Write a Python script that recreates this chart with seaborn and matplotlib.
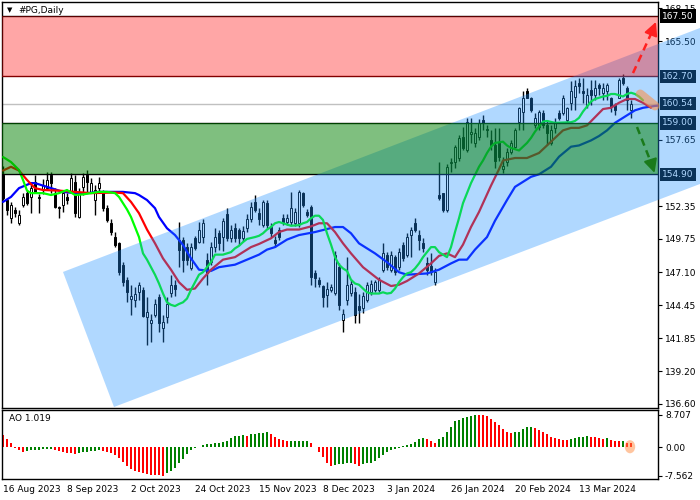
import numpy as np
import matplotlib
matplotlib.use("Agg")
import matplotlib.pyplot as plt
from matplotlib.patches import Polygon, Ellipse
import seaborn as sns

# ==================================================
# Data (#PG, daily bars)
# ==================================================
date_labels = ["16 Aug 2023", "8 Sep 2023", "2 Oct 2023", "24 Oct 2023",
               "15 Nov 2023", "8 Dec 2023", "3 Jan 2024", "26 Jan 2024",
               "20 Feb 2024", "13 Mar 2024"]

opens = [154.85, 152.85, 151.4, 152.06, 151.0, 152.46, 153.4, 153.1, 154.3, 153.1,
         153.65, 153.8, 154.85, 153.4, 152.3, 152.46, 153.1, 153.5, 154.3, 151.5,
         153.9, 154.85, 153.5, 152.85, 153.8, 153.4, 152.2, 151.0, 149.9, 149.4,
         147.67, 146.48, 145.0, 144.9, 145.5, 145.7, 143.5, 143.05, 143.7, 145.1,
         142.65, 143.5, 145.45, 146.1, 149.7, 149.7, 149.1, 147.45, 149.8, 149.5,
         149.9, 148.1, 147.9, 149.1, 150.2, 149.9, 151.7, 149.8, 150.6, 150.5,
         149.8, 150.6, 151.3, 152.7, 151.8, 150.86, 152.6, 150.7, 149.7, 150.5,
         151.4, 151.1, 151.1, 151.0, 151.0, 153.4, 151.9, 152.3, 147.0, 146.5,
         146.0, 145.28, 145.7, 145.45, 147.5, 143.3, 144.9, 145.45, 145.5, 144.4,
         144.25, 144.9, 145.5, 145.7, 145.7, 147.3, 148.5, 147.3, 148.3, 147.5,
         149.25, 148.5, 150.05, 151.0, 150.06, 149.4, 147.85, 147.6, 146.3, 153.25,
         153.4, 152.06, 155.8, 155.9, 156.2, 157.9, 156.8, 158.1, 157.4, 157.9,
         159.2, 158.5, 157.6, 157.2, 157.5, 155.3, 155.9, 156.7, 157.1, 159.1,
         159.9, 161.5, 161.0, 158.8, 158.7, 159.8, 158.8, 157.4, 158.6, 159.8,
         159.8, 159.2, 160.6, 161.1, 162.2, 161.5, 160.4, 161.6, 161.2, 162.0,
         161.4, 161.5, 161.0, 160.4, 161.0, 162.6, 161.8, 160.0]
highs = [155.6, 153.0, 152.7, 152.3, 152.06, 153.4, 153.65, 154.2, 154.85, 153.3,
         154.5, 155.1, 155.1, 153.8, 152.35, 153.65, 153.4, 155.0, 154.85, 153.8,
         155.0, 155.24, 154.6, 154.05, 154.7, 153.65, 152.46, 151.3, 150.3, 149.5,
         147.9, 146.7, 146.1, 145.9, 146.3, 145.9, 145.1, 143.8, 145.0, 145.4,
         143.7, 145.1, 146.9, 146.5, 151.1, 149.9, 149.4, 149.4, 150.0, 151.1,
         151.3, 148.6, 149.5, 150.6, 150.5, 151.4, 152.2, 150.9, 151.0, 150.6,
         150.8, 151.7, 152.7, 153.25, 152.2, 152.85, 152.85, 151.0, 150.0, 150.7,
         151.7, 151.7, 153.5, 152.2, 153.65, 153.5, 152.1, 152.46, 147.3, 146.7,
         146.1, 146.3, 146.2, 148.8, 147.8, 144.2, 148.3, 146.5, 145.9, 145.4,
         145.5, 146.3, 146.5, 146.5, 146.7, 149.4, 148.7, 148.8, 148.5, 149.0,
         149.5, 150.2, 150.7, 151.4, 150.46, 149.8, 148.3, 148.6, 147.4, 155.9,
         153.45, 155.7, 156.2, 157.2, 158.0, 158.7, 159.4, 159.4, 158.6, 159.3,
         159.6, 158.8, 158.4, 158.6, 158.6, 156.3, 157.0, 157.6, 158.6, 160.3,
         161.5, 161.8, 161.1, 159.8, 160.0, 160.0, 159.2, 158.8, 159.4, 160.0,
         161.2, 160.3, 162.3, 162.4, 162.6, 162.6, 161.8, 162.4, 162.4, 162.2,
         162.2, 162.2, 161.1, 160.6, 162.6, 162.9, 161.9, 160.8]
lows = [152.85, 151.66, 151.0, 151.5, 150.86, 152.3, 152.46, 151.8, 153.5, 151.8,
        153.3, 153.65, 153.4, 152.2, 151.4, 151.9, 152.5, 153.4, 151.5, 151.4,
        153.25, 153.4, 153.4, 151.66, 153.4, 152.0, 151.1, 150.1, 149.1, 146.9,
        146.0, 144.7, 143.7, 144.3, 144.9, 143.5, 141.3, 141.5, 143.5, 142.3,
        141.5, 143.05, 145.1, 145.2, 147.5, 147.1, 147.7, 147.3, 148.9, 149.4,
        149.4, 146.1, 147.7, 148.7, 148.9, 148.8, 149.6, 149.5, 149.5, 149.3,
        149.6, 150.3, 151.1, 151.9, 150.9, 150.7, 150.6, 149.9, 149.1, 149.7,
        150.9, 150.9, 150.9, 150.8, 150.7, 152.3, 151.5, 146.1, 145.9, 145.9,
        144.3, 144.3, 145.5, 145.3, 144.1, 142.3, 144.5, 145.2, 143.05, 143.05,
        143.85, 144.7, 145.3, 145.5, 145.5, 147.1, 147.3, 147.1, 146.9, 147.3,
        148.0, 148.3, 148.3, 150.3, 148.9, 148.7, 146.9, 146.9, 146.08, 152.85,
        151.9, 151.9, 155.1, 155.4, 156.0, 156.8, 156.7, 157.4, 157.1, 157.6,
        158.4, 157.9, 156.8, 155.4, 156.0, 155.0, 155.6, 156.5, 157.0, 158.4,
        158.4, 161.0, 159.9, 158.6, 158.4, 158.6, 157.2, 157.2, 158.2, 159.2,
        159.6, 159.0, 160.0, 160.0, 161.4, 160.6, 160.2, 160.4, 160.8, 161.2,
        160.8, 160.8, 159.9, 159.6, 161.0, 162.0, 160.0, 159.4]
closes = [153.0, 152.06, 152.46, 151.8, 151.66, 153.1, 152.6, 153.8, 153.5, 153.0,
          154.05, 154.45, 154.2, 152.3, 152.2, 153.4, 152.85, 154.6, 151.8, 153.4,
          154.7, 154.3, 154.2, 153.65, 154.2, 152.2, 151.26, 150.3, 149.27, 147.1,
          146.3, 145.5, 145.2, 145.4, 146.1, 143.6, 143.9, 143.3, 144.6, 143.05,
          143.1, 144.6, 146.08, 145.8, 148.9, 148.1, 148.1, 149.1, 149.0, 150.46,
          151.0, 147.05, 149.1, 149.9, 149.4, 151.2, 149.8, 150.5, 149.8, 149.8,
          150.4, 151.3, 152.3, 152.06, 151.3, 152.7, 150.86, 150.2, 149.4, 149.9,
          151.1, 151.4, 152.2, 151.9, 153.5, 152.46, 151.66, 146.7, 146.65, 146.2,
          145.1, 145.75, 145.9, 148.5, 144.5, 143.8, 146.08, 146.2, 143.7, 144.1,
          145.2, 146.08, 146.2, 146.3, 146.5, 148.6, 147.5, 148.5, 147.1, 148.7,
          148.2, 149.9, 150.46, 150.46, 149.67, 149.0, 147.3, 147.1, 147.1, 153.0,
          152.06, 155.5, 155.9, 157.1, 157.8, 157.0, 159.1, 158.3, 158.2, 159.0,
          158.95, 158.4, 157.25, 156.0, 156.3, 155.6, 156.7, 157.4, 158.4, 160.2,
          161.0, 161.0, 160.0, 159.4, 159.9, 158.8, 158.2, 158.4, 159.1, 159.4,
          161.0, 160.2, 161.5, 161.9, 161.9, 161.4, 161.2, 161.2, 161.8, 161.8,
          161.8, 162.0, 160.3, 160.0, 162.4, 162.2, 160.8, 160.54]

# Alligator lines (bar position, price) - they run a few bars past the last candle
lips_x = [0, 2, 4, 5, 6, 7, 10, 12, 14, 16, 18, 20, 22, 24, 26, 28, 29, 30, 31, 32,
          33, 34, 35, 36, 37, 38, 39, 40, 41, 42, 43, 44, 45, 46, 47, 48, 49, 50, 51, 52,
          53, 55, 56, 57, 58, 59, 60, 61, 63, 64, 65, 66, 67, 68, 69, 70, 71, 72, 74, 75,
          76, 77, 78, 79, 80, 81, 82, 83, 84, 85, 86, 87, 88, 89, 90, 91, 92, 94, 95, 96,
          97, 98, 99, 100, 101, 102, 103, 104, 105, 106, 107, 108, 109, 110, 111, 112, 113, 114, 115, 116,
          117, 118, 119, 120, 121, 122, 123, 125, 126, 127, 129, 130, 131, 132, 133, 134, 135, 136, 138, 142,
          143, 144, 145, 146, 147, 148, 149, 150, 151, 152, 153, 154, 155, 156, 157, 158, 159, 160]
lips_y = [156.28, 155.88, 155.24, 154.45, 153.6, 153.4, 153.4, 153.25, 153.4, 153.65,
          153.25, 153.3, 153.4, 153.5, 153.5, 153.4, 153.1, 152.6, 152.1, 151.5,
          150.7, 149.9, 148.6, 148.1, 147.5, 146.9, 146.2, 145.4, 144.7, 144.5,
          144.4, 144.57, 144.7, 145.0, 145.7, 146.3, 146.9, 147.1, 147.5, 147.9,
          148.5, 148.5, 148.6, 148.7, 149.0, 149.2, 149.5, 149.75, 149.9, 150.0,
          150.2, 150.5, 150.7, 151.0, 151.1, 151.0, 150.9, 150.8, 150.85, 151.0,
          151.1, 151.4, 151.6, 151.6, 151.26, 150.2, 149.3, 148.3, 147.7, 147.4,
          147.2, 146.5, 146.2, 146.1, 145.8, 145.5, 145.4, 145.4, 145.5, 145.4,
          145.45, 145.8, 146.3, 146.7, 147.0, 147.1, 147.4, 147.8, 148.3, 148.7,
          149.1, 149.1, 148.7, 148.5, 148.3, 149.1, 150.3, 151.4, 152.6, 153.4,
          154.2, 154.85, 155.5, 156.0, 156.6, 157.1, 157.4, 157.5, 157.2, 157.0,
          156.8, 157.1, 157.4, 157.8, 158.3, 158.7, 159.1, 159.15, 159.0, 159.05,
          159.15, 159.4, 159.9, 160.3, 160.7, 160.9, 161.0, 161.1, 161.15, 161.3,
          161.3, 161.2, 161.1, 161.3, 161.4, 161.3, 161.1, 160.8]
teeth_x = [0, 2, 4, 6, 8, 10, 14, 18, 22, 28, 30, 32, 34, 36, 38, 40, 42, 44, 46, 48,
           50, 52, 55, 58, 62, 64, 67, 69, 71, 74, 77, 79, 81, 83, 85, 87, 90, 92, 94, 97,
           99, 101, 104, 107, 109, 111, 113, 115, 117, 119, 120, 122, 124, 125, 128, 131, 134, 136, 138, 140,
           142, 144, 146, 148, 150, 152, 154, 156, 158, 160, 162]
teeth_y = [155.2, 155.5, 155.2, 154.45, 153.8, 153.65, 153.6, 153.5, 153.4, 153.45,
           153.4, 152.7, 151.8, 150.5, 149.4, 148.2, 147.3, 146.3, 145.7, 145.8,
           146.6, 147.3, 148.1, 148.3, 149.1, 149.35, 149.8, 150.3, 150.5, 150.5,
           150.75, 151.0, 151.0, 150.3, 149.4, 148.6, 147.5, 147.0, 146.5, 146.0,
           146.1, 146.4, 147.0, 147.8, 148.4, 148.6, 148.3, 149.3, 150.7, 151.9,
           152.6, 154.0, 155.3, 156.0, 156.2, 156.2, 156.6, 157.2, 157.8, 158.4,
           158.6, 158.6, 158.8, 159.45, 160.1, 160.2, 160.6, 160.9, 160.9, 160.6,
           160.2]
jaw_x = [0, 2, 4, 7, 8, 10, 13, 15, 18, 21, 24, 28, 30, 33, 34, 36, 38, 39, 41, 43,
         45, 47, 49, 52, 54, 58, 61, 64, 66, 68, 71, 74, 78, 80, 83, 85, 87, 89, 93, 96,
         99, 101, 106, 109, 112, 114, 116, 118, 121, 123, 126, 128, 132, 134, 137, 139, 142, 144, 147, 149,
         151, 153, 156, 158, 160, 163, 165]
jaw_y = [152.7, 153.1, 153.8, 154.2, 154.2, 154.0, 153.7, 153.5, 153.4, 153.4,
         153.5, 153.5, 153.5, 153.4, 153.25, 152.85, 152.2, 151.5, 150.6, 150.06,
         149.27, 148.2, 147.3, 147.2, 147.5, 147.7, 148.1, 148.5, 148.9, 149.1,
         149.7, 150.06, 150.3, 150.46, 150.7, 150.7, 150.2, 149.4, 148.6, 147.9,
         147.1, 146.9, 147.0, 147.3, 147.8, 148.1, 148.1, 148.9, 149.9, 151.2,
         152.85, 153.9, 154.7, 154.9, 155.5, 156.3, 157.1, 157.2, 157.6, 157.95,
         158.4, 159.0, 159.6, 160.0, 160.2, 160.35, 160.4]

ao_values = [3.24, 2.18, 1.2, -0.13, -0.76, -1.2, -1.02, -0.84, -0.76, -0.67,
             -0.58, -0.53, -0.49, -0.76, -1.02, -1.29, -1.47, -1.64, -1.73, -1.64,
             -1.38, -1.2, -1.02, -0.93, -0.76, -0.93, -1.2, -1.47, -2.0, -2.98,
             -4.04, -5.02, -5.91, -6.36, -6.71, -6.98, -7.16, -7.35, -7.45, -7.52,
             -7.562, -6.98, -6.36, -5.64, -4.31, -3.07, -1.82, -0.76, -0.31, 0.13,
             0.49, 0.76, 0.84, 1.02, 1.11, 1.29, 1.73, 2.36, 2.98, 3.07,
             3.16, 3.07, 3.42, 3.6, 3.69, 3.78, 4.04, 3.4, 2.7, 2.2,
             1.85, 1.55, 1.6, 1.62, 1.64, 1.66, 1.68, 1.2, 0.04, -1.2,
             -2.7, -4.13, -5.02, -4.76, -4.49, -4.36, -4.31, -4.27, -4.4, -4.93,
             -4.4, -4.31, -4.13, -3.6, -2.98, -2.09, -1.38, -0.76, -0.4, -0.13,
             0.22, 0.49, 0.84, 1.47, 2.09, 2.36, 2.18, 1.73, 1.2, 2.18,
             2.8, 4.13, 5.47, 7.07, 7.24, 7.69, 8.13, 8.45, 8.707, 8.68,
             8.6, 8.2, 7.6, 6.8, 5.91, 4.76, 4.13, 3.9, 3.96, 4.13,
             4.76, 5.29, 5.47, 5.02, 4.58, 4.13, 3.42, 2.8, 2.36, 2.09,
             1.91, 1.82, 2.18, 2.44, 2.62, 2.8, 2.98, 2.8, 2.62, 2.53,
             2.27, 2.36, 1.82, 1.73, 1.64, 1.73, 1.2, 1.019]

# scale labels that stay visible next to the price boxes
price_ticks = [168.15, 165.50, 157.65, 152.35, 149.75, 147.10,
               144.45, 141.85, 139.20, 136.60]
level_prices = [167.50, 162.70, 160.54, 159.00, 154.90]
ao_ticks = [8.707, 0.0, -7.562]

# ==================================================
# Figure
# ==================================================
sns.set_style("white")
plt.rcParams["font.family"] = ["DejaVu Sans"]
plt.rcParams["text.color"] = "black"
plt.rcParams["xtick.color"] = "black"
plt.rcParams["ytick.color"] = "black"

fig = plt.figure(figsize=(7, 5), dpi=100)
ax = fig.add_axes([2 / 700, 92 / 500, 656 / 700, 406 / 500])
ax2 = fig.add_axes([2 / 700, 21 / 500, 656 / 700, 69 / 500])

o = np.array(opens)
h = np.array(highs)
l = np.array(lows)
c = np.array(closes)
idx = np.arange(len(c))
up = c >= o

# candles
ax.vlines(idx, l, h, color="black", linewidth=1, zorder=2)
body_low = np.minimum(o, c)
body_h = np.maximum(np.abs(c - o), 0.05)
ax.bar(idx[up], body_h[up], bottom=body_low[up], width=0.7,
       color="white", edgecolor="black", linewidth=0.7, zorder=2.5)
ax.bar(idx[~up], body_h[~up], bottom=body_low[~up], width=0.7,
       color="black", edgecolor="black", linewidth=0.7, zorder=2.5)

# alligator
sns.lineplot(x=jaw_x, y=jaw_y, ax=ax, color="#0000FF", linewidth=1.6, zorder=3, legend=False)
sns.lineplot(x=teeth_x, y=teeth_y, ax=ax, color="#FF0000", linewidth=1.6, zorder=3, legend=False)
sns.lineplot(x=lips_x, y=lips_y, ax=ax, color="#00FF00", linewidth=1.6, zorder=3, legend=False)

# level lines
ax.axhline(level_prices[2], color="#C0C0C0", linewidth=1, zorder=1)
ax.axhline(level_prices[0], color="black", linewidth=1, zorder=3.5)
ax.axhline(level_prices[1], color="#800000", linewidth=1, zorder=3.5)
ax.axhline(level_prices[3], color="black", linewidth=1, zorder=3.5)
ax.axhline(level_prices[4], color="black", linewidth=1, zorder=3.5)

# price boxes on the right scale
for p in level_prices:
    ax.text(1.0 + 4 / 656, p, f"{p:.2f}", transform=ax.get_yaxis_transform(),
            ha="left", va="center", fontsize=6.5, color="white", zorder=4,
            bbox=dict(boxstyle="square,pad=0.25", fc="black", ec="none"))

# rising channel (runs over the price scale)
channel = Polygon([(15, 147.12), (27.75, 136.36), (174.25, 154.13), (174.25, 166.56)],
                  closed=True, facecolor="#1E90FF", edgecolor="none",
                  alpha=0.35, zorder=5, clip_on=False)
ax.add_patch(channel)

# target zones
ax.axhspan(level_prices[1], level_prices[0], facecolor="#FF0000", alpha=0.35,
           edgecolor="none", zorder=6)
ax.axhspan(level_prices[4], level_prices[3], facecolor="#008000", alpha=0.5,
           edgecolor="none", zorder=6)

# highlight on the lines crossing
ax.plot([159.3, 163.0], [161.3, 160.35], color="#FF8C40", alpha=0.55,
        linewidth=6.5, solid_capstyle="round", zorder=7, clip_on=False)

# scenario arrows
ax.plot([157.5, 162.6], [162.97, 166.5], color="#FF2020", linewidth=1.8,
        linestyle=(0, (3, 2)), zorder=8, clip_on=False)
ax.annotate("", xy=(163.5, 167.25), xytext=(162.3, 166.3), annotation_clip=False,
            arrowprops=dict(arrowstyle="-|>,head_width=0.4,head_length=0.8",
                            color="#FF2020", lw=1.5, mutation_scale=10), zorder=8)
ax.plot([158.5, 162.3], [158.67, 155.6], color="#1A7A1A", linewidth=1.8,
        linestyle=(0, (3, 2)), zorder=8, clip_on=False)
ax.annotate("", xy=(163.1, 154.8), xytext=(162.0, 155.9), annotation_clip=False,
            arrowprops=dict(arrowstyle="-|>,head_width=0.4,head_length=0.8",
                            color="#1A7A1A", lw=1.5, mutation_scale=10), zorder=8)

ax.set_xlim(-0.25, 163.75)
ax.set_ylim(136.28, 168.63)
ax.set_xticks([])
ax.yaxis.tick_right()
ax.set_yticks(price_ticks)
ax.set_yticklabels([f"{t:.2f}" for t in price_ticks])
ax.tick_params(axis="y", direction="out", length=3, width=0.8, pad=2, labelsize=6.5)
for s in ax.spines.values():
    s.set_color("black")
    s.set_linewidth(1)

# ==================================================
# Awesome Oscillator
# ==================================================
ao = np.array(ao_values)
rising = np.r_[False, ao[1:] > ao[:-1]]
bar_colors = np.where(rising, "#008000", "#FF0000")
ax2.bar(idx, ao, width=0.7, color=bar_colors, linewidth=0, zorder=2)
ax2.add_patch(Ellipse((156.75, 0.13), 2.6, 3.5, facecolor="#FF8C40",
                      alpha=0.5, edgecolor="none", zorder=3))
ax2.set_xlim(-0.25, 163.75)
ax2.set_ylim(-8.48, 9.92)
ax2.yaxis.tick_right()
ax2.set_yticks(ao_ticks)
ax2.set_yticklabels(["8.707", "0.00", "-7.562"])
ax2.set_xticks(np.arange(0, 160, 16))
ax2.set_xticklabels(date_labels)
for lab in ax2.get_xticklabels():
    lab.set_ha("left")
ax2.tick_params(axis="y", direction="out", length=3, width=0.8, pad=2, labelsize=6.5)
ax2.tick_params(axis="x", direction="out", length=3, width=0.8, pad=1.5, labelsize=6.5)
for s in ax2.spines.values():
    s.set_color("black")
    s.set_linewidth(1)

ax2.text(7 / 656, 0.87, "AO 1.019", transform=ax2.transAxes, fontsize=6.5,
         ha="left", va="center")
fig.text(7 / 700, 1 - 10.5 / 500, "\u25bc", fontsize=5, ha="left", va="center")
fig.text(18 / 700, 1 - 10.5 / 500, "#PG,Daily", fontsize=6.5, ha="left", va="center")

fig.savefig("out.png", dpi=100)
